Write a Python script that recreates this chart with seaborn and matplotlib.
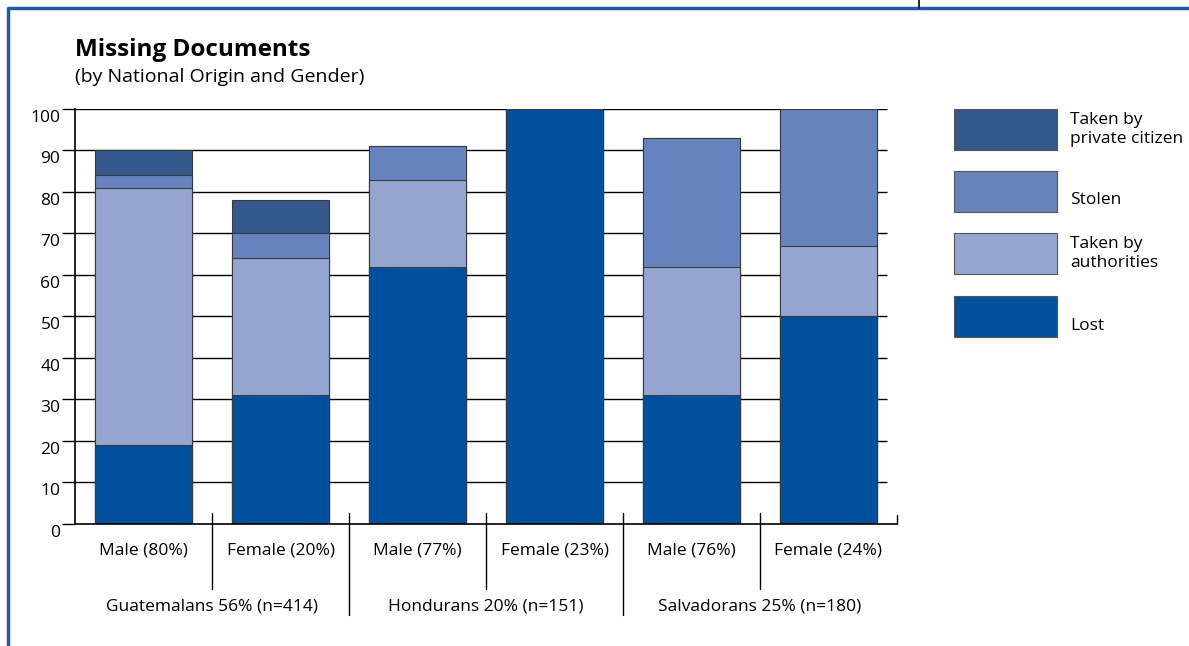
import numpy as np
import pandas as pd
import matplotlib
matplotlib.use("Agg")
import matplotlib.pyplot as plt
import matplotlib.transforms as mtransforms
from matplotlib.patches import Rectangle
from matplotlib.lines import Line2D
import seaborn as sns

# data (percent of respondents with missing documents)
groups = ["Male (80%)", "Female (20%)", "Male (77%)", "Female (23%)", "Male (76%)", "Female (24%)"]
countries = ["Guatemalans 56% (n=414)", "Hondurans 20% (n=151)", "Salvadorans 25% (n=180)"]
lost = [19, 31, 62, 100, 31, 50]
authorities = [62, 33, 21, 0, 31, 17]
stolen = [3, 6, 8, 0, 31, 33]
private = [6, 8, 0, 0, 0, 0]

series_names = ["Lost", "Taken by\nauthorities", "Stolen", "Taken by\nprivate citizen"]
colors = ["#00509e", "#94a5d2", "#6783be", "#34578c"]

sns.set_style("white")
plt.rcParams["font.family"] = ["Open Sans", "DejaVu Sans"]
plt.rcParams["text.color"] = "black"
plt.rcParams["xtick.labelcolor"] = "black"
plt.rcParams["ytick.labelcolor"] = "black"

df = pd.DataFrame({"group": groups, "lost": lost, "authorities": authorities,
                   "stolen": stolen, "private": private})
cols = ["lost", "authorities", "stolen", "private"]
cum = df[cols].cumsum(axis=1)

fig = plt.figure(figsize=(11.89, 6.46), dpi=100)
ax = fig.add_axes([0.0631, 0.1889, 0.6913, 0.6424])

# horizontal rules behind the bars
ax.hlines(np.arange(10, 101, 10), -0.5, 5.43, color="black", lw=1.0, zorder=0)

# stacked bars: draw cumulative totals from the top segment down
for i in range(len(cols) - 1, -1, -1):
    sns.barplot(x=df["group"], y=cum[cols[i]], order=groups, color=colors[i],
                saturation=1, width=0.715, edgecolor="#3a3a3a", linewidth=0.8,
                errorbar=None, ax=ax)

ax.set_xlim(-0.5, 5.5)
ax.set_ylim(0, 100)
ax.set_yticks(np.arange(0, 101, 10))
ax.set_xlabel("")
ax.set_ylabel("")
for s in ["top", "right"]:
    ax.spines[s].set_visible(False)
for s in ["left", "bottom"]:
    ax.spines[s].set_color("black")
    ax.spines[s].set_linewidth(1.2)

ax.tick_params(axis="y", length=9.5, width=1.0, color="black", pad=1, labelsize=12.5, left=True)
ax.tick_params(axis="x", length=0, pad=13, labelsize=12.5)
offset = mtransforms.ScaledTranslation(0, -7 / 100, fig.dpi_scale_trans)
for lab in ax.get_yticklabels():
    lab.set_transform(lab.get_transform() + offset)

# separators below the axis
trans = mtransforms.blended_transform_factory(ax.transData, ax.transAxes)
for k, xs in enumerate([0.5, 1.5, 2.5, 3.5, 4.5]):
    bottom = -0.219 if k % 2 == 1 else -0.157
    ax.plot([xs, xs], [0.027, bottom], color="black", lw=1.0, transform=trans, clip_on=False)
ax.plot([5.5, 5.5], [0, 0.022], color="black", lw=1.0, transform=trans, clip_on=False)

for j, name in enumerate(countries):
    ax.text(2 * j + 0.5, -0.2, name, transform=trans, ha="center", va="center", fontsize=12.5)

# titles
fig.text(0.063, 0.9226, "Missing Documents", fontsize=17.5, fontweight="bold", va="center", ha="left")
fig.text(0.063, 0.881, "(by National Origin and Gender)", fontsize=14, va="center", ha="left")

# legend drawn by hand to match the boxed layout
W, H = 1189, 646
box_tops = [109, 171, 233, 296]
order = [3, 2, 1, 0]
for top, idx in zip(box_tops, order):
    fig.add_artist(Rectangle((954 / W, 1 - (top + 41) / H), 103 / W, 41 / H,
                             facecolor=colors[idx], edgecolor="#555555", lw=0.8,
                             transform=fig.transFigure))
    label = series_names[idx]
    cy = top + 20.5 if "\n" in label else top + 29.5
    fig.text(1070 / W, 1 - cy / H, label, fontsize=12.5, va="center", ha="left", linespacing=1.25)

# page frame
fig.add_artist(Line2D([7.5 / W, 7.5 / W, 1], [0, 1 - 8 / H, 1 - 8 / H], color="#1f5aa6", lw=2.5,
                      transform=fig.transFigure))
fig.add_artist(Line2D([919 / W, 919 / W], [1, 1 - 8 / H], color="black", lw=1.2,
                      transform=fig.transFigure))

fig.savefig("out.png", dpi=100)
